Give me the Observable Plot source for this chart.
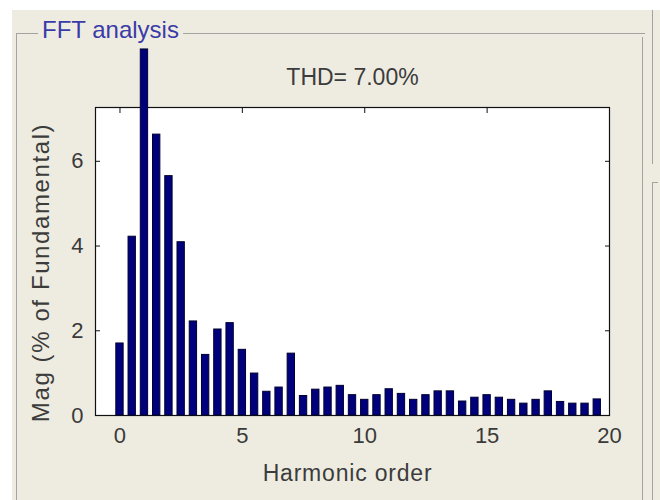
<!DOCTYPE html>
<html>
<head>
<meta charset="utf-8">
<script src="https://cdn.jsdelivr.net/npm/d3@7"></script>
<script src="https://cdn.jsdelivr.net/npm/@observablehq/plot@0.6"></script>
<style>
  html, body { margin: 0; padding: 0; background: #eeece1; }
  #page { position: relative; width: 660px; height: 500px; overflow: hidden; background: #eeece1; font-family: "Liberation Sans", Arial, sans-serif; }
  .strip { position: absolute; background: #ffffff; }
  .line { position: absolute; background: #a3a3a3; }
  #legend { position: absolute; left: 38px; top: 16px; padding: 0 4px; background: #eeece1; color: #3b3ba8; font-size: 24px; line-height: 28px; }
  #chart { position: absolute; left: 0; top: 0; }
  #chart svg { overflow: visible; background: transparent; }
</style>
</head>
<body>
<div id="page">
  <div class="strip" style="left:0;top:0;width:660px;height:10px"></div>
  <div class="strip" style="left:0;top:0;width:12px;height:500px"></div>
  <!-- group box -->
  <div class="line" style="left:16px;top:33px;width:629px;height:1px"></div>
  <div class="line" style="left:16px;top:33px;width:1px;height:470px"></div>
  <div class="line" style="left:642px;top:37px;width:1px;height:470px"></div>
  <div id="legend">FFT analysis</div>
  <!-- neighbouring panel edge -->
  <div class="line" style="left:652px;top:10px;width:1px;height:154px"></div>
  <div class="line" style="left:652px;top:182px;width:1px;height:320px"></div>
  <div class="line" style="left:652px;top:182px;width:6px;height:1px"></div>
  <div id="chart"></div>
</div>
<script>
const harmonicOrder = [0, 0.5, 1, 1.5, 2, 2.5, 3, 3.5, 4, 4.5, 5, 5.5, 6, 6.5, 7, 7.5, 8, 8.5, 9, 9.5,
  10, 10.5, 11, 11.5, 12, 12.5, 13, 13.5, 14, 14.5, 15, 15.5, 16, 16.5, 17, 17.5, 18, 18.5, 19, 19.5];
const magnitude = [1.70, 4.22, 8.64, 6.63, 5.65, 4.09, 2.22, 1.43, 2.03, 2.18, 1.55, 0.99, 0.56, 0.66, 1.46, 0.46, 0.61, 0.66, 0.70, 0.48,
  0.37, 0.48, 0.62, 0.51, 0.37, 0.48, 0.57, 0.57, 0.33, 0.42, 0.48, 0.42, 0.37, 0.28, 0.37, 0.57, 0.32, 0.28, 0.28, 0.38];
const xTicks = [0, 5, 10, 15, 20];
const yTicks = [0, 2, 4, 6];
const titleText = "THD= 7.00%";
const xLabel = "Harmonic order";
const yLabel = "Mag (% of Fundamental)";

const data = harmonicOrder.map((h, i) => ({h, m: magnitude[i]}));
const halfWidth = 0.15;

const chart = Plot.plot({
  width: 660,
  height: 500,
  marginLeft: 95,
  marginRight: 51,
  marginTop: 107,
  marginBottom: 85,
  style: {fontFamily: "'Liberation Sans', Arial, sans-serif", fontSize: "22px", background: "transparent", color: "#111"},
  x: {domain: [-1, 20]},
  y: {domain: [0, 7.27]},
  marks: [
    Plot.frame({fill: "white", stroke: "#111", strokeWidth: 1.2}),
    Plot.axisX(xTicks, {anchor: "bottom", tickSize: -5, tickPadding: 17, fontSize: 22, fill: "#3a3a3a", stroke: "#111", label: null}),
    Plot.axisX(xTicks, {anchor: "top", tickSize: -5, tickFormat: () => "", label: null}),
    Plot.axisY(yTicks, {anchor: "left", tickSize: -5, tickPadding: 17, fontSize: 22, fill: "#3a3a3a", label: null}),
    Plot.axisY(yTicks, {anchor: "right", tickSize: -5, tickFormat: () => "", label: null}),
    Plot.rectY(data, {x1: d => d.h - halfWidth, x2: d => d.h + halfWidth, y: "m", fill: "#00007c", stroke: "#000030", strokeWidth: 1}),
    Plot.text([titleText], {text: d => d, frameAnchor: "top", dy: -23, lineAnchor: "bottom", fontSize: 23, fill: "#3c3c3c"}),
    Plot.text([xLabel], {text: d => d, frameAnchor: "bottom", dx: -5, dy: 65, lineAnchor: "bottom", fontSize: 23, fill: "#3c3c3c"}),
    Plot.text([yLabel], {text: d => d, frameAnchor: "left", textAnchor: "middle", dx: -47, dy: 11, rotate: -90, lineAnchor: "bottom", fontSize: 24, fill: "#3c3c3c"})
  ]
});
document.getElementById("chart").appendChild(chart);
d3.select(chart).selectAll("text").each(function() {
  const t = this.textContent;
  if (t === xLabel) this.setAttribute("letter-spacing", "0.8");
  if (t === yLabel) this.setAttribute("letter-spacing", "1.6");
});
</script>
</body>
</html>
